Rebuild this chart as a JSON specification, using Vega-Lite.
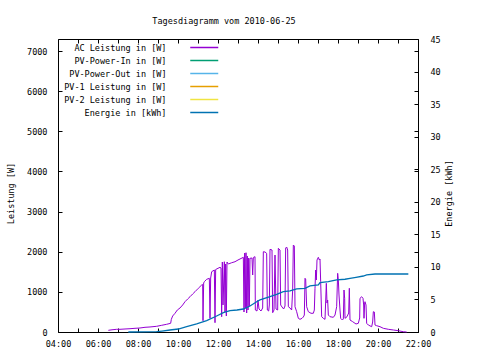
{
  "$schema": "https://vega.github.io/schema/vega-lite/v6.json",
  "width": 360,
  "height": 293,
  "autosize": {"type": "none"},
  "padding": {"left": 58, "top": 39, "right": 62, "bottom": 28},
  "background": "white",
  "title": {"text": "Tagesdiagramm vom 2010-06-25", "font": "DejaVu Sans Mono", "fontSize": 8.5, "fontWeight": "normal", "color": "black", "anchor": "middle", "frame": "group", "dx": -14, "offset": 3, "baseline": "alphabetic"},
  "config": {
    "view": {"stroke": "black", "strokeWidth": 1},
    "axis": {"domain": false, "grid": false, "ticks": true, "offset": -4, "tickSize": 4, "tickColor": "black", "tickWidth": 1, "tickOpacity": 1, "labelFont": "DejaVu Sans Mono", "labelFontSize": 8.5, "labelColor": "black", "titleFont": "DejaVu Sans Mono", "titleFontSize": 8.5, "titleFontWeight": "normal", "titleColor": "black", "labelOverlap": false},
    "legend": {"orient": "none", "legendX": 140.25, "legendY": 2.5, "symbolType": "M-2.8,0H2.8", "symbolSize": 100, "symbolStrokeWidth": 1.5, "labelAlign": "right", "labelOffset": -43.75, "labelFont": "DejaVu Sans Mono", "labelFontSize": 8.5, "labelColor": "black", "labelLimit": 400, "rowPadding": 2, "padding": 0}
  },
  "datasets": {
    "ac": [
      {"h": 6.517, "w": 42}, {"h": 6.7, "w": 55}, {"h": 6.933, "w": 67}, {"h": 7.1, "w": 67}, {"h": 7.35, "w": 75}, {"h": 7.6, "w": 82}, {"h": 7.85, "w": 92}, {"h": 8.1, "w": 100}, {"h": 8.35, "w": 117}, {"h": 8.6, "w": 125}, {"h": 8.933, "w": 142}, {"h": 9.183, "w": 167}, {"h": 9.433, "w": 192}, {"h": 9.633, "w": 217}, {"h": 9.667, "w": 316}, {"h": 9.733, "w": 399}, {"h": 9.85, "w": 466}, {"h": 9.967, "w": 548}, {"h": 10.1, "w": 598}, {"h": 10.233, "w": 673}, {"h": 10.35, "w": 755}, {"h": 10.483, "w": 822}, {"h": 10.6, "w": 879}, {"h": 10.733, "w": 947}, {"h": 10.85, "w": 1004}, {"h": 11.017, "w": 1089}, {"h": 11.183, "w": 1171}, {"h": 11.233, "w": 1183}, {"h": 11.25, "w": 281}, {"h": 11.283, "w": 1221}, {"h": 11.317, "w": 1253}, {"h": 11.433, "w": 1313}, {"h": 11.567, "w": 1338}, {"h": 11.6, "w": 341}, {"h": 11.633, "w": 1345}, {"h": 11.683, "w": 1502}, {"h": 11.817, "w": 1544}, {"h": 11.85, "w": 232}, {"h": 11.883, "w": 1557}, {"h": 12.0, "w": 1587}, {"h": 12.1, "w": 1612}, {"h": 12.15, "w": 1594}, {"h": 12.183, "w": 381}, {"h": 12.217, "w": 1744}, {"h": 12.25, "w": 673}, {"h": 12.317, "w": 1751}, {"h": 12.35, "w": 498}, {"h": 12.383, "w": 1694}, {"h": 12.417, "w": 399}, {"h": 12.45, "w": 1744}, {"h": 12.517, "w": 1694}, {"h": 12.683, "w": 1726}, {"h": 12.85, "w": 1751}, {"h": 13.0, "w": 1794}, {"h": 13.15, "w": 1831}, {"h": 13.267, "w": 1861}, {"h": 13.3, "w": 498}, {"h": 13.333, "w": 1968}, {"h": 13.367, "w": 598}, {"h": 13.4, "w": 1975}, {"h": 13.433, "w": 473}, {"h": 13.467, "w": 1893}, {"h": 13.5, "w": 548}, {"h": 13.533, "w": 1843}, {"h": 13.567, "w": 648}, {"h": 13.6, "w": 1836}, {"h": 13.7, "w": 1843}, {"h": 13.733, "w": 1420}, {"h": 13.767, "w": 1856}, {"h": 13.85, "w": 1876}, {"h": 13.867, "w": 548}, {"h": 13.95, "w": 523}, {"h": 14.0, "w": 797}, {"h": 14.05, "w": 573}, {"h": 14.15, "w": 523}, {"h": 14.233, "w": 598}, {"h": 14.267, "w": 2000}, {"h": 14.35, "w": 1993}, {"h": 14.433, "w": 1960}, {"h": 14.467, "w": 548}, {"h": 14.533, "w": 523}, {"h": 14.567, "w": 673}, {"h": 14.6, "w": 2060}, {"h": 14.7, "w": 2043}, {"h": 14.733, "w": 481}, {"h": 14.8, "w": 548}, {"h": 14.85, "w": 1918}, {"h": 14.9, "w": 573}, {"h": 14.983, "w": 548}, {"h": 15.017, "w": 2085}, {"h": 15.1, "w": 2043}, {"h": 15.133, "w": 673}, {"h": 15.2, "w": 623}, {"h": 15.283, "w": 573}, {"h": 15.35, "w": 648}, {"h": 15.383, "w": 2092}, {"h": 15.433, "w": 2117}, {"h": 15.483, "w": 2043}, {"h": 15.517, "w": 630}, {"h": 15.6, "w": 598}, {"h": 15.683, "w": 548}, {"h": 15.733, "w": 1046}, {"h": 15.767, "w": 2167}, {"h": 15.817, "w": 2142}, {"h": 15.85, "w": 630}, {"h": 15.933, "w": 506}, {"h": 16.017, "w": 341}, {"h": 16.1, "w": 316}, {"h": 16.2, "w": 341}, {"h": 16.267, "w": 374}, {"h": 16.317, "w": 423}, {"h": 16.35, "w": 1338}, {"h": 16.383, "w": 1320}, {"h": 16.433, "w": 630}, {"h": 16.517, "w": 506}, {"h": 16.65, "w": 466}, {"h": 16.767, "w": 466}, {"h": 16.817, "w": 548}, {"h": 16.85, "w": 1089}, {"h": 16.883, "w": 1544}, {"h": 16.917, "w": 1295}, {"h": 16.95, "w": 1794}, {"h": 17.017, "w": 1861}, {"h": 17.067, "w": 1794}, {"h": 17.1, "w": 1818}, {"h": 17.133, "w": 1253}, {"h": 17.183, "w": 381}, {"h": 17.267, "w": 341}, {"h": 17.35, "w": 316}, {"h": 17.417, "w": 1213}, {"h": 17.45, "w": 722}, {"h": 17.483, "w": 797}, {"h": 17.517, "w": 423}, {"h": 17.6, "w": 381}, {"h": 17.767, "w": 366}, {"h": 17.85, "w": 423}, {"h": 17.933, "w": 630}, {"h": 17.983, "w": 1462}, {"h": 18.017, "w": 1295}, {"h": 18.05, "w": 922}, {"h": 18.1, "w": 548}, {"h": 18.133, "w": 341}, {"h": 18.217, "w": 299}, {"h": 18.267, "w": 324}, {"h": 18.3, "w": 1046}, {"h": 18.333, "w": 839}, {"h": 18.35, "w": 341}, {"h": 18.45, "w": 381}, {"h": 18.533, "w": 473}, {"h": 18.567, "w": 1089}, {"h": 18.6, "w": 299}, {"h": 18.733, "w": 257}, {"h": 18.9, "w": 199}, {"h": 19.017, "w": 217}, {"h": 19.083, "w": 349}, {"h": 19.1, "w": 839}, {"h": 19.183, "w": 879}, {"h": 19.25, "w": 839}, {"h": 19.283, "w": 673}, {"h": 19.3, "w": 341}, {"h": 19.333, "w": 722}, {"h": 19.35, "w": 755}, {"h": 19.4, "w": 673}, {"h": 19.433, "w": 217}, {"h": 19.517, "w": 174}, {"h": 19.683, "w": 132}, {"h": 19.733, "w": 249}, {"h": 19.767, "w": 506}, {"h": 19.817, "w": 498}, {"h": 19.85, "w": 174}, {"h": 19.933, "w": 157}, {"h": 20.1, "w": 132}, {"h": 20.267, "w": 92}, {"h": 20.517, "w": 67}, {"h": 20.767, "w": 50}, {"h": 21.017, "w": 32}, {"h": 21.267, "w": 7}, {"h": 21.433, "w": 0}
    ],
    "en": [
      {"h": 7.517, "e": 0}, {"h": 8.933, "e": 0.05}, {"h": 9.2, "e": 0.15}, {"h": 9.6, "e": 0.31}, {"h": 10.017, "e": 0.46}, {"h": 10.433, "e": 0.81}, {"h": 10.933, "e": 1.23}, {"h": 11.433, "e": 1.74}, {"h": 11.933, "e": 2.46}, {"h": 12.267, "e": 2.96}, {"h": 12.6, "e": 3.27}, {"h": 12.95, "e": 3.38}, {"h": 13.267, "e": 3.53}, {"h": 13.6, "e": 3.99}, {"h": 13.933, "e": 4.65}, {"h": 14.1, "e": 4.92}, {"h": 14.6, "e": 5.42}, {"h": 14.933, "e": 5.79}, {"h": 15.267, "e": 6.19}, {"h": 15.6, "e": 6.3}, {"h": 15.933, "e": 6.61}, {"h": 16.35, "e": 6.71}, {"h": 16.6, "e": 7.07}, {"h": 17.017, "e": 7.22}, {"h": 17.1, "e": 7.57}, {"h": 17.517, "e": 7.73}, {"h": 17.933, "e": 7.99}, {"h": 18.35, "e": 8.1}, {"h": 18.6, "e": 8.25}, {"h": 18.9, "e": 8.4}, {"h": 19.267, "e": 8.6}, {"h": 19.433, "e": 8.76}, {"h": 19.85, "e": 8.91}, {"h": 21.517, "e": 8.91}
    ]
  },
  "layer": [
    {
      "data": {"name": "ac"},
      "mark": {"type": "line", "strokeWidth": 1},
      "encoding": {
        "x": {"field": "h", "type": "quantitative",
          "scale": {"domain": [4, 22], "nice": false, "zero": false},
          "axis": {"orient": "bottom", "title": null, "values": [4, 5, 6, 7, 8, 9, 10, 11, 12, 13, 14, 15, 16, 17, 18, 19, 20, 21, 22], "labelPadding": 7, "labelExpr": "datum.value % 2 == 0 ? (datum.value < 10 ? '0' : '') + datum.value + ':00' : ''", "labelFlush": false, "labelOverlap": false}},
        "y": {"field": "w", "type": "quantitative",
          "scale": {"domain": [0, 7300], "nice": false},
          "axis": {"orient": "left", "values": [0, 1000, 2000, 3000, 4000, 5000, 6000, 7000], "labelPadding": 11, "format": "d", "title": "Leistung [W]", "titleAngle": 270, "titleX": -52, "titleY": 154, "titleAlign": "center", "titleBaseline": "middle"}},
        "color": {"datum": "AC Leistung in [W]", "type": "nominal",
          "scale": {"domain": ["AC Leistung in [W]", "PV-Power-In in [W]", "PV-Power-Out in [W]", "PV-1 Leistung in [W]", "PV-2 Leistung in [W]", "Energie in [kWh]"], "range": ["#9400D3", "#009E73", "#56B4E9", "#E69F00", "#F0E442", "#0072B2"]},
          "legend": {"title": null}}
      }
    },
    {
      "data": {"name": "en"},
      "mark": {"type": "line", "strokeWidth": 1.3},
      "encoding": {
        "x": {"field": "h", "type": "quantitative", "axis": null},
        "y": {"field": "e", "type": "quantitative",
          "scale": {"domain": [0, 45], "nice": false},
          "axis": {"orient": "right", "values": [0, 5, 10, 15, 20, 25, 30, 35, 40, 45], "labelPadding": 12, "title": "Energie [kWh]", "titleAngle": 270, "titleX": 34, "titleY": 154, "titleAlign": "center", "titleBaseline": "middle"}},
        "color": {"datum": "Energie in [kWh]", "type": "nominal"}
      }
    },
    {
      "data": {"name": "ac"},
      "mark": {"type": "line", "strokeOpacity": 0},
      "encoding": {
        "x": {"field": "h", "type": "quantitative",
          "axis": {"orient": "top", "title": null, "labels": false, "values": [4, 5, 6, 7, 8, 9, 10, 11, 12, 13, 14, 15, 16, 17, 18, 19, 20, 21, 22]}},
        "y": {"field": "w", "type": "quantitative",
          "scale": {"domain": [0, 7300], "nice": false},
          "axis": {"orient": "right", "values": [0, 1000, 2000, 3000, 4000, 5000, 6000, 7000], "labels": false, "title": null}}
      }
    }
  ],
  "resolve": {"scale": {"y": "independent"}, "axis": {"x": "independent"}}
}
